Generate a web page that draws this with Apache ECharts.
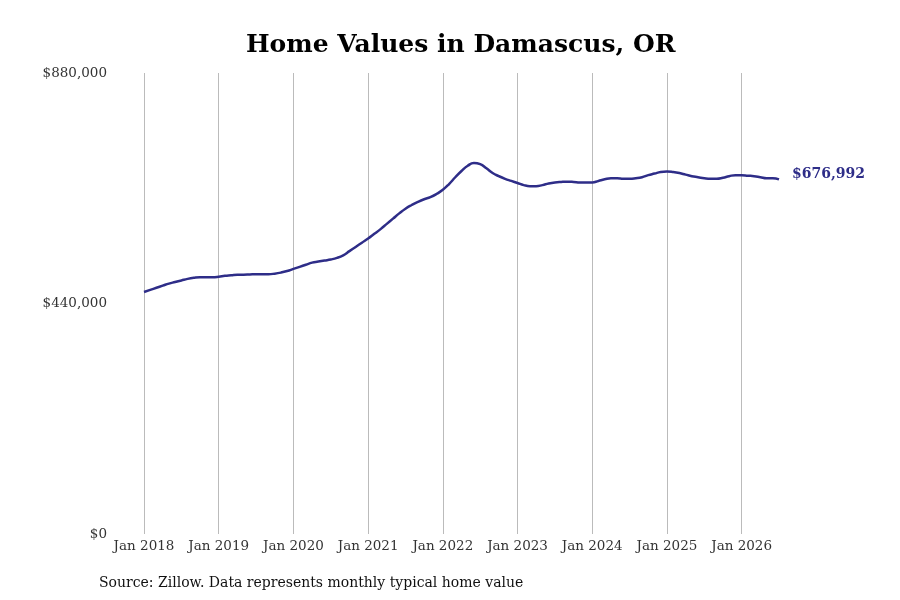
<!DOCTYPE html>
<html>
<head>
<meta charset="utf-8">
<script src="https://cdn.jsdelivr.net/npm/echarts@6/dist/echarts.min.js"></script>
<style>
  html, body { margin: 0; padding: 0; background: #fff; }
  #chart { width: 900px; height: 600px; }
</style>
</head>
<body>
<div id="chart"></div>
<script>
// monthly typical home value, Jan 2018 .. Jul 2026 (thousands of $)
const values2018 = [462, 466, 470, 474, 478, 481, 484, 487, 489, 490, 490, 490];
const values2019 = [491, 493, 494, 495, 495, 495.5, 496, 496, 496, 497, 499, 502];
const values2020 = [506, 510, 514, 518, 520, 522, 524, 527, 532, 540, 548, 556];
const values2021 = [564, 573, 582, 592, 602, 612, 621, 628, 634, 639, 643, 649];
const values2022 = [657, 668, 681, 693, 703, 708, 706, 698, 689, 683, 678, 674];
const values2023 = [670, 666, 664, 664, 666, 669, 671, 672, 672.5, 672, 671, 671];
const values2024 = [671, 674, 677, 679, 679, 678, 678, 679, 681, 685, 688, 691];
const values2025 = [692, 691, 689, 686, 683, 681, 679, 678, 678, 680, 683, 685];
const values2026 = [685, 684, 683, 681, 679, 679, 676.992];

const yTicks = [0, 440000, 880000];
const lastLabel = '$676,992';

const values = [].concat(values2018, values2019, values2020, values2021,
  values2022, values2023, values2024, values2025, values2026).map(v => Math.round(v * 1000));

const monthNames = ['Jan', 'Feb', 'Mar', 'Apr', 'May', 'Jun', 'Jul', 'Aug', 'Sep', 'Oct', 'Nov', 'Dec'];
const categories = values.map((v, i) => monthNames[i % 12] + ' ' + (2018 + Math.floor(i / 12)));

const font = '"DejaVu Serif", serif';
const lineColor = '#2e2d88';

const chart = echarts.init(document.getElementById('chart'));
chart.setOption({
  animation: false,
  textStyle: { fontFamily: font },
  title: {
    text: 'Home Values in Damascus, OR',
    left: 241,
    top: 28,
    textStyle: { fontFamily: font, fontSize: 25, fontWeight: 'bold', color: '#000' }
  },
  grid: { left: 144, right: 121, top: 73, bottom: 66 },
  xAxis: {
    type: 'category',
    data: categories,
    boundaryGap: false,
    axisLine: { show: false },
    axisTick: { show: false },
    axisLabel: {
      interval: i => i % 12 === 0,
      color: '#333',
      fontSize: 13.5,
      margin: 5,
      fontFamily: font
    },
    splitLine: {
      show: true,
      interval: i => i % 12 === 0,
      lineStyle: { color: '#bbb', width: 1 }
    }
  },
  yAxis: {
    type: 'value',
    min: yTicks[0],
    max: yTicks[2],
    interval: yTicks[1] - yTicks[0],
    axisLine: { show: false },
    axisTick: { show: false },
    splitLine: { show: false },
    axisLabel: {
      color: '#333',
      fontSize: 13.5,
      margin: 37,
      padding: [4, 0, 0, 0],
      fontFamily: font,
      formatter: v => '$' + v.toLocaleString('en-US')
    }
  },
  series: [{
    type: 'line',
    data: values,
    smooth: true,
    showSymbol: false,
    lineStyle: { color: lineColor, width: 2.5 },
    itemStyle: { color: lineColor },
    endLabel: {
      show: true,
      formatter: lastLabel,
      distance: 13,
      offset: [0, -5],
      color: lineColor,
      fontSize: 14,
      fontWeight: 'bold',
      fontFamily: font
    }
  }],
  graphic: [{
    type: 'text',
    left: 99,
    top: 576,
    style: {
      text: 'Source: Zillow. Data represents monthly typical home value',
      font: '14px ' + font,
      fill: '#111'
    }
  }]
});
</script>
</body>
</html>
